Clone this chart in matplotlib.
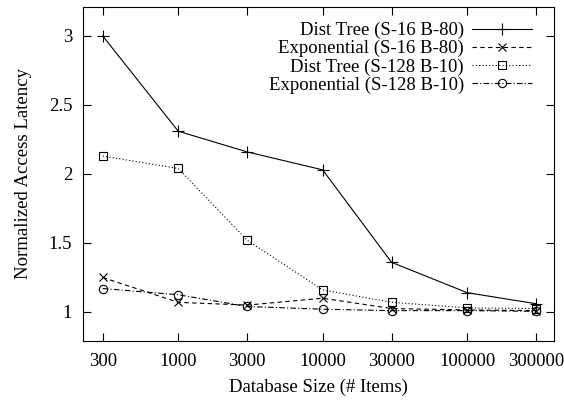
import matplotlib
matplotlib.use("Agg")
import matplotlib.pyplot as plt
from matplotlib.ticker import FixedLocator, FixedFormatter, NullLocator

plt.rcParams['font.family'] = ['Liberation Serif', 'DejaVu Serif']

sizes = [300, 1000, 3000, 10000, 30000, 100000, 300000]
size_labels = ["300", "1000", "3000", "10000", "30000", "100000", "300000"]

dist_s16 = [3.00, 2.31, 2.16, 2.03, 1.36, 1.14, 1.06]
expo_s16 = [1.25, 1.07, 1.05, 1.10, 1.025, 1.015, 1.01]
dist_s128 = [2.13, 2.04, 1.52, 1.16, 1.07, 1.03, 1.025]
expo_s128 = [1.17, 1.125, 1.04, 1.02, 1.01, 1.01, 1.005]

labels = ["Dist Tree (S-16 B-80)", "Exponential (S-16 B-80)",
          "Dist Tree (S-128 B-10)", "Exponential (S-128 B-10)"]

FS = 13.5
fig = plt.figure(figsize=(5.64, 4.03), dpi=100)
ax = fig.add_axes([0.1477, 0.1546, 0.8346, 0.8273])

lw = 0.8
ax.plot(sizes, dist_s16, color='black', lw=lw, ls='-', marker='+', ms=8,
        mew=0.8, label=labels[0])
ax.plot(sizes, expo_s16, color='black', lw=lw, ls=(0, (4, 3)), marker='x', ms=6,
        mew=0.8, label=labels[1])
ax.plot(sizes, dist_s128, color='black', lw=lw, ls=(0, (1, 2)), marker='s', ms=6,
        mew=0.8, mfc='none', label=labels[2])
ax.plot(sizes, expo_s128, color='black', lw=lw, ls=(0, (5, 2, 1, 2)), marker='o', ms=6,
        mew=0.8, mfc='none', label=labels[3])

ax.set_xscale('log')
ax.set_xlim(220, 400000)
ax.set_ylim(0.792, 3.208)
ax.xaxis.set_major_locator(FixedLocator(sizes))
ax.xaxis.set_major_formatter(FixedFormatter(size_labels))
ax.xaxis.set_minor_locator(NullLocator())
ax.set_yticks([1, 1.5, 2, 2.5, 3])
ax.set_yticklabels(["1", "1.5", "2", "2.5", "3"])

ax.tick_params(axis='both', which='major', direction='in', length=6, width=0.8,
               top=True, right=True, labelsize=FS)
ax.tick_params(axis='x', pad=9)
ax.tick_params(axis='y', pad=8)
for s in ax.spines.values():
    s.set_linewidth(0.8)

ax.set_xlabel("Database Size (# Items)", fontsize=FS, labelpad=6)
ax.set_ylabel("Normalized Access Latency", fontsize=FS, labelpad=12)

leg = ax.legend(loc='upper right', bbox_to_anchor=(0.977, 0.99), frameon=False,
                markerfirst=False, fontsize=FS,
                handlelength=3.2, handletextpad=0.43, labelspacing=0.05,
                borderaxespad=0.3, borderpad=0.3)

fig.savefig("out.png", dpi=100)
